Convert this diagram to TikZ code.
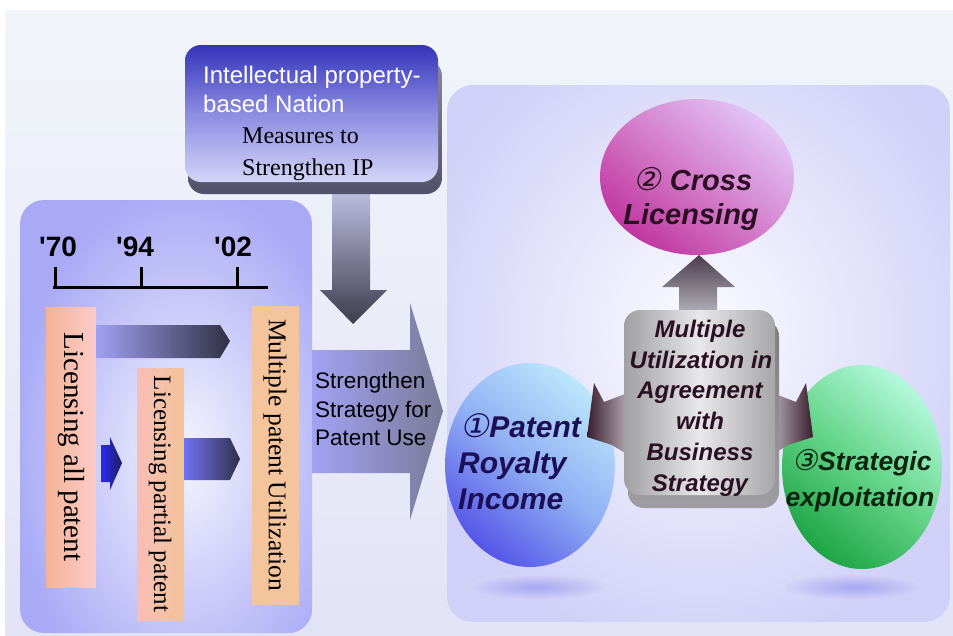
\documentclass[tikz,border=0pt]{standalone}
\usepackage{fontspec}
\setmainfont{Liberation Serif}
\setsansfont{Liberation Sans}
\newfontfamily\circfont[FakeSlant=0.2]{DejaVu Sans}
\newcommand{\circd}[1]{{\circfont\mdseries\upshape\scalebox{1.08}{#1}}}
\usetikzlibrary{shapes.geometric}
\definecolor{bgA}{HTML}{F1F5F9}
\definecolor{bgB}{HTML}{E3E3F7}
\definecolor{lpanel}{HTML}{A9A9F6}
\definecolor{lcenter}{HTML}{F4F4FE}
\definecolor{rpanel}{HTML}{D0D0F8}
\definecolor{rcenter}{HTML}{FBFBFF}
\definecolor{txmaroon}{HTML}{2B0F22}
\definecolor{txnavy}{HTML}{1C0F55}
\definecolor{txgreen}{HTML}{0B2410}
\definecolor{dnA}{HTML}{CDCDF4}
\definecolor{dnB}{HTML}{3C3C4C}
\definecolor{tbShA}{HTML}{8A8AA0}
\definecolor{tbShB}{HTML}{50506A}
\definecolor{tbA}{HTML}{3434BA}
\definecolor{tbM}{HTML}{8C8CE2}
\definecolor{tbB}{HTML}{D4D4F8}
\definecolor{bigA}{HTML}{A2A2F4}
\definecolor{bigB}{HTML}{7A7A98}
\definecolor{bar1A}{HTML}{F5B294}
\definecolor{bar1B}{HTML}{FCCCCA}
\definecolor{bar2A}{HTML}{F9BDB6}
\definecolor{bar2B}{HTML}{F2C49B}
\definecolor{bar3}{HTML}{F4C59C}
\definecolor{a1A}{HTML}{A0A0F4}
\definecolor{a1B}{HTML}{303044}
\definecolor{a2A}{HTML}{2A2AF2}
\definecolor{a2B}{HTML}{1E1E5C}
\definecolor{a3A}{HTML}{7272F4}
\definecolor{a3B}{HTML}{303048}
\definecolor{shadIn}{HTML}{A6A6F0}
\definecolor{shadOut}{HTML}{D4D4F8}
\definecolor{crA}{HTML}{E2C4F6}
\definecolor{crM}{HTML}{D47ECB}
\definecolor{crB}{HTML}{C036A0}
\definecolor{paA}{HTML}{BCE6FB}
\definecolor{paM}{HTML}{90B0F4}
\definecolor{paB}{HTML}{5656E8}
\definecolor{sgA}{HTML}{B2F8DA}
\definecolor{sgM}{HTML}{64D488}
\definecolor{sgB}{HTML}{1EA646}
\definecolor{upA}{HTML}{4C3C4C}
\definecolor{upB}{HTML}{B4B4BC}
\definecolor{sdDark}{HTML}{3A1E2E}
\definecolor{sdLight}{HTML}{B8B0B8}
\definecolor{cbShA}{HTML}{7E7E82}
\definecolor{cbShB}{HTML}{9E9EA2}
\definecolor{cbL}{HTML}{A0A0A2}
\definecolor{cbM}{HTML}{E8E8EA}
\definecolor{cbR}{HTML}{A6A6A8}
\begin{document}
\begin{tikzpicture}[x=1pt,y=-1pt,
  yearlbl/.style={font=\sffamily\bfseries\fontsize{28}{30}\selectfont, anchor=base west, inner sep=0pt},
  vtext/.style={rotate=-90, inner sep=0pt},
  boxsans/.style={font=\sffamily\fontsize{24}{28}\selectfont, text=white, anchor=base west, inner sep=0pt},
  boxserif/.style={font=\rmfamily\fontsize{24}{28}\selectfont, text=black, anchor=base west, inner sep=0pt},
  arrowsans/.style={font=\sffamily\fontsize{22.5}{28}\selectfont, text=black, anchor=base west, inner sep=0pt},
  crossfont/.style={font=\sffamily\bfseries\itshape\fontsize{29}{34}\selectfont, text=txmaroon, anchor=base, inner sep=0pt},
  midfont/.style={font=\sffamily\bfseries\itshape\fontsize{24}{30}\selectfont, text=txmaroon, anchor=base, inner sep=0pt},
  patfont/.style={font=\sffamily\bfseries\itshape\fontsize{30}{34}\selectfont, text=txnavy, anchor=base west, inner sep=0pt},
  stratfont/.style={font=\sffamily\bfseries\itshape\fontsize{26.5}{32}\selectfont, text=txgreen, anchor=base, inner sep=0pt},
  ]
\useasboundingbox (0,0) rectangle (953,635);
\fill[white] (0,0) rectangle (953,635);
\shade[top color=bgA, bottom color=bgB] (5,10) rectangle (953,635);

% ---------- left panel
\begin{scope}
  \clip[rounded corners=24pt] (20,200) rectangle (312,633);
  \fill[lpanel] (20,200) rectangle (312,633);
  \shade[inner color=lcenter, outer color=lpanel] (185,455) ellipse [x radius=175, y radius=270];
\end{scope}

% ---------- right panel
\begin{scope}
  \clip[rounded corners=26pt] (447,85) rectangle (950,622);
  \fill[rpanel] (447,85) rectangle (950,622);
  \shade[inner color=rcenter, outer color=rpanel] (700,330) ellipse [x radius=300, y radius=330];
\end{scope}

% ---------- down arrow from the top box
\shade[top color=dnA, bottom color=dnB]
  (332,175) -- (370,175) -- (370,290) -- (387,290) -- (353,324) -- (320,290) -- (332,290) -- cycle;

% ---------- top box
\shade[rounded corners=16pt, top color=tbShA, bottom color=tbShB] (188,60) rectangle (442,194);
\shade[rounded corners=16pt, top color=tbA, bottom color=tbB, middle color=tbM] (185,45) rectangle (438,182);
\node[boxsans] (ip1) at (203,83) {Intellectual property-};
\node[boxsans] (ip2) at (203,112) {based Nation};
\node[boxserif] (ms1) at (242,143) {Measures to};
\node[boxserif] (ms2) at (242,175) {Strengthen IP};

% ---------- big right arrow
\shade[left color=bigA, right color=bigB]
  (312,350) -- (410,350) -- (410,303) -- (443,411) -- (410,520) -- (410,473) -- (312,473) -- cycle;
\node[arrowsans] (st1) at (315,388) {Strengthen};
\node[arrowsans] (st2) at (315,417) {Strategy for};
\node[arrowsans] (st3) at (315,445) {Patent Use};

% ---------- timeline
\node[yearlbl] (y70) at (39,256) {\textquotesingle 70};
\node[yearlbl] (y94) at (116,256) {\textquotesingle 94};
\node[yearlbl] (y02) at (214,256) {\textquotesingle 02};
\coordinate (axL) at (53,287);
\coordinate (axR) at (268,287);
\draw[line width=3pt] (axL) -- (axR);
\draw[line width=3pt] (55,287) -- (55,267);
\draw[line width=3pt] (141,287) -- (141,267);
\draw[line width=3pt] (237,287) -- (237,267);

% ---------- bars
\shade[left color=bar1A, right color=bar1B] (46,307) rectangle (96,587);
\shade[left color=bar2A, right color=bar2B] (137,368) rectangle (184,620);
\fill[bar3] (252,306) rectangle (299,605);
\node[vtext, font=\rmfamily\fontsize{29}{32}\selectfont] (b1) at (71,447) {Licensing all patent};
\node[vtext, font=\rmfamily\fontsize{25}{30}\selectfont] (b2) at (160,494) {Licensing partial patent};
\node[vtext, font=\rmfamily\fontsize{25.5}{30}\selectfont] (b3) at (275,455) {Multiple patent Utilization};

% ---------- small arrows
\shade[left color=a1A, right color=a1B]
  (96,325) -- (220,325) -- (230,341) -- (220,358) -- (96,358) -- cycle;
\shade[left color=a2A, right color=a2B]
  (101,445) -- (110,445) -- (110,437) -- (122,463) -- (110,490) -- (110,482) -- (101,482) -- cycle;
\shade[left color=a3A, right color=a3B]
  (184,438) -- (230,438) -- (240,459) -- (230,480) -- (184,480) -- cycle;

% ---------- right panel contents
\shade[inner color=shadIn, outer color=shadOut] (535,587) ellipse [x radius=70, y radius=13];
\shade[inner color=shadIn, outer color=shadOut] (855,587) ellipse [x radius=70, y radius=13];

\shade[top color=crA, bottom color=crB, middle color=crM, shading angle=-40]
  (697,177) ellipse [x radius=97, y radius=78];
\shade[top color=paA, bottom color=paB, middle color=paM, shading angle=-40]
  (530,465) ellipse [x radius=85, y radius=102];
\shade[top color=sgA, bottom color=sgB, middle color=sgM, shading angle=-40]
  (862,467) ellipse [x radius=80, y radius=102];

% arrows from the centre box
\shade[top color=upA, bottom color=upB]
  (679,315) -- (679,287) -- (662,287) -- (699,255) -- (735,287) -- (717,287) -- (717,315) -- cycle;
\shade[left color=sdDark, right color=sdLight]
  (630,392) -- (604,402) -- (594,383) -- (587,437) -- (612,445) -- (630,456) -- cycle;
\shade[left color=sdLight, right color=sdDark]
  (770,392) -- (796,402) -- (806,383) -- (813,437) -- (788,445) -- (770,456) -- cycle;

% centre box
\shade[rounded corners=16pt, top color=cbShA, bottom color=cbShB] (628,320) rectangle (779,508);
\shade[rounded corners=16pt, left color=cbL, right color=cbR, middle color=cbM] (624,310) rectangle (775,495);

% texts
\node[crossfont] (c1) at (693,190) {\circd{②} Cross};
\node[crossfont] (c2) at (691,224) {Licensing};

\node[midfont] (m1) at (700,337) {Multiple};
\node[midfont] (m2) at (701,368) {Utilization in};
\node[midfont] (m3) at (700,398) {Agreement};
\node[midfont] (m4) at (700,429) {with};
\node[midfont] (m5) at (700,460) {Business};
\node[midfont] (m6) at (700,491) {Strategy};

\node[patfont] (p1) at (460,437) {\circd{①}Patent};
\node[patfont] (p2) at (458,473) {Royalty};
\node[patfont] (p3) at (458,509) {Income};

\node[stratfont] (s1) at (862,470) {\circd{③}Strategic};
\node[stratfont] (s2) at (860,506) {exploitation};
\end{tikzpicture}
\end{document}
